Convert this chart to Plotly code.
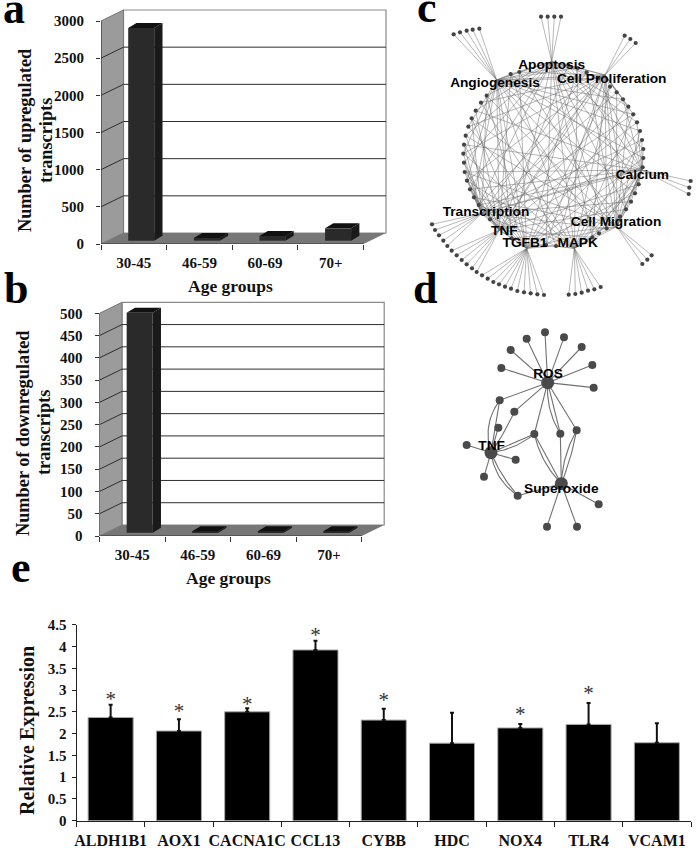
import plotly.graph_objects as go

W, H = 697, 848
SERIF = "Liberation Serif"
SANS = "Liberation Sans"

# ---------- data ----------
age_groups = ["30-45", "46-59", "60-69", "70+"]
upregulated = [2862, 38, 63, 166]
downregulated = [494, 3, 3, 3]
up_ticks = [0, 500, 1000, 1500, 2000, 2500, 3000]
down_ticks = [0, 50, 100, 150, 200, 250, 300, 350, 400, 450, 500]

genes = ["ALDH1B1", "AOX1", "CACNA1C", "CCL13", "CYBB", "HDC", "NOX4", "TLR4", "VCAM1"]
expression = [2.37, 2.06, 2.5, 3.92, 2.31, 1.78, 2.13, 2.21, 1.79]
expression_err = [0.29, 0.27, 0.08, 0.21, 0.26, 0.70, 0.09, 0.49, 0.45]
star_genes = ["ALDH1B1", "AOX1", "CACNA1C", "CCL13", "CYBB", "NOX4", "TLR4"]
star_values = [2.75, 2.48, 2.65, 4.23, 2.72, 2.4, 2.88]
expr_ticks = [0, 0.5, 1, 1.5, 2, 2.5, 3, 3.5, 4, 4.5]
expr_tick_text = ["0", "0.5", "1", "1.5", "2", "2.5", "3", "3.5", "4", "4.5"]

# network c
hub_names = ["Apoptosis", "Angiogenesis", "Cell Proliferation", "Calcium", "Cell Migration",
             "MAPK", "TGFB1", "TNF", "Transcription"]
hub_x = [425, 260, 585, 695, 620, 493, 350, 268, 215]
hub_y = [185, 240, 225, 510, 680, 745, 745, 690, 640]
label_x = [425, 255, 605, 697, 618, 503, 345, 283, 228]
label_y = [197, 250, 240, 527, 668, 730, 730, 695, 637]
ring_x = [475, 503, 530, 565, 600, 620, 639, 655, 670, 681, 690, 696, 700, 700, 698, 686, 675, 663, 648,
          630, 590, 567, 547, 438, 408, 305, 240, 206, 192, 180, 171, 164, 162, 160, 162, 167, 175, 185,
          197, 213, 230, 302, 328]
ring_y = [195, 204, 217, 235, 260, 277, 298, 320, 343, 367, 393, 420, 447, 474, 502, 553, 580, 605, 628,
          650, 685, 700, 712, 738, 735, 715, 658, 615, 592, 568, 542, 516, 488, 461, 434, 407, 380, 355,
          332, 308, 287, 222, 216]
hub_ring_edges = [
    [1, 2, 3, 41, 42, 7, 9, 12, 15, 18, 20, 22, 24, 25, 27, 29, 32, 35, 38, 40],
    [41, 42, 0, 1, 3, 6, 8, 10, 13, 16, 19, 21, 23, 25, 28, 30, 33, 36],
    [3, 4, 5, 6, 7, 8, 0, 42, 39, 36, 33, 30, 27, 26, 24, 23, 22, 20, 18],
    [11, 12, 13, 14, 15, 16, 17, 18, 19, 9, 6, 3, 0, 41, 38, 34, 31, 29, 27, 24, 22, 21],
    [17, 18, 19, 20, 21, 14, 10, 7, 5, 2, 42, 40, 37, 35, 31, 28, 25],
    [21, 22, 23, 24, 19, 15, 11, 8, 4, 1, 41, 39, 36, 33, 30, 27],
    [24, 25, 26, 28, 31, 34, 37, 40, 42, 1, 4, 7, 10, 13, 16, 20, 23],
    [25, 26, 27, 28, 29, 30, 32, 35, 38, 41, 0, 3, 6, 9, 12, 15, 18, 22],
    [26, 27, 28, 29, 30, 31, 32, 33, 34, 37, 40, 2, 5, 8, 11, 14, 17, 20, 23],
]
hub_hub_edges = [(0, 1), (0, 2), (1, 2), (3, 4), (3, 5), (3, 8), (2, 4), (1, 7), (1, 6), (0, 5), (4, 5), (6, 7), (7, 8), (2, 7)]
leaf_hub = [0, 0, 0, 0,
            1, 1, 1, 1, 1,
            2, 2, 2,
            3, 3, 3,
            4, 4, 4,
            5, 5, 5, 5, 5, 5,
            8, 8, 8, 8, 8,
            7, 7, 7, 7, 7, 7,
            6, 6, 6, 6, 6, 6, 6, 6, 6, 6, 6]
leaf_x = [393, 413, 433, 453,
          131, 150, 170, 188, 208,
          644, 661, 677,
          842, 838, 836,
          725, 712, 697,
          476, 496, 515, 534, 553, 572,
          66, 75, 87, 100, 112,
          125, 140, 155, 170, 186, 200,
          216, 233, 250, 267, 285, 303, 322, 342, 362, 382, 402]
leaf_y = [50, 50, 50, 50,
          103, 97, 92, 89, 86,
          107, 117, 129,
          543, 563, 582,
          766, 779, 792,
          884, 882, 878, 872, 868, 861,
          673, 690, 706, 722, 738,
          752, 766, 780, 793, 805, 816,
          826, 836, 846, 853, 860, 866, 873, 877, 880, 883, 885]

# network d
d_names = ["ROS", "TNF", "Superoxide"]
d_label_x = [414, 245, 454]
d_label_y = [255, 469, 598]
d_x = [413, 243, 454, 405, 350, 302, 274, 462, 515, 547, 551, 269, 313, 265, 373, 451, 500, 170, 317, 222, 323, 566, 411, 501]
d_y = [278, 488, 581, 127, 146, 180, 234, 142, 171, 225, 293, 331, 365, 413, 432, 431, 421, 465, 509, 560, 617, 643, 710, 710]
d_edge_from = [0, 0, 0, 0, 0, 0, 0, 0, 0, 1, 1, 0, 1, 1, 0, 1, 1, 14, 14, 0, 0, 0, 15, 16, 16, 1, 1, 1, 1, 1, 20, 2, 2, 2]
d_edge_to = [3, 4, 5, 6, 7, 8, 9, 10, 11, 11, 11, 12, 12, 13, 14, 14, 14, 2, 2, 15, 15, 16, 2, 2, 2, 17, 18, 19, 20, 20, 2, 21, 22, 23]
d_edge_bend = [0, 0, 0, 0, 0, 0, 0, 0, 0, -0.25, 0, 0, 0.05, 0, 0, 0.14, 0, 0, 0.14, 0.16, 0, 0, 0, 0.12, -0.05, 0, 0, 0, 0.22, 0.08, 0, 0, 0, 0]

# ---------- helpers ----------
fx = lambda px: px / W
fy = lambda py: 1 - py / H

fig = go.Figure()
layout_axes = {}
shapes = []
annotations = []


def add_3d_panel(idx, values, ticks, left, right, y0_px, top_px, show_right, show_top, title_lines, title_xs, title_cy, xt_y):
    xa = f"xaxis{idx}"
    ya = f"yaxis{idx}"
    xr = f"x{idx}"
    yr = f"y{idx}"
    slot = (right - left) / 4
    ymax = ticks[-1]
    unit = (y0_px - top_px) / ymax
    dx, dy = 22.5 / slot, 11 / unit
    x_hi = (show_right - left) / slot
    y_hi = (y0_px - show_top) / unit
    layout_axes[xa] = dict(domain=[fx(left), fx(show_right)], range=[0, x_hi], anchor=yr, automargin=False,
                           tickvals=[i + 0.5 for i in range(4)], ticktext=age_groups, ticks="",
                           tickfont=dict(family=SERIF, size=15, color="#111", weight=700), showgrid=False,
                           zeroline=False, showline=False, ticklabelstandoff=8, tickangle=0,
                           minor=dict(tickvals=[0, 1, 2, 3, 4], ticks="outside", ticklen=5, tickcolor="#333", tickwidth=1, showgrid=False))
    layout_axes[ya] = dict(domain=[fy(y0_px), fy(show_top)], range=[0, y_hi], anchor=xr, automargin=False,
                           tickvals=ticks, ticks="outside", ticklen=4, tickcolor="#333",
                           tickfont=dict(family=SERIF, size=15, color="#111", weight=700), showgrid=False,
                           zeroline=False, showline=False, ticklabelstandoff=9)

    def poly(pts, fill=None, line=None, width=1):
        path = "M " + " L ".join(f"{a} {b}" for a, b in pts)
        if fill:
            path += " Z"
        shapes.append(dict(type="path", path=path, xref=xr, yref=yr, layer="below", fillcolor=fill,
                           line=dict(color=line, width=width if line else 0)))

    poly([(dx, dy), (4 + dx, dy), (4 + dx, ymax + dy), (dx, ymax + dy)], "#ffffff", "#8a8a8a", 1.2)
    poly([(0, 0), (dx, dy), (dx, ymax + dy), (0, ymax)], "#9b9b9b", "#777777", 1)
    poly([(0, 0), (dx, dy), (4 + dx, dy), (4, 0)], "#777777", None)
    for t in ticks[1:-1]:
        poly([(0, t), (dx, t + dy), (4 + dx, t + dy)], None, "#2e2e2e", 1)
    poly([(0, 0), (0, ymax)], None, "#333333", 1)
    poly([(0, 0), (4, 0)], None, "#333333", 1)

    bar_w = 26 / slot
    shift_x, shift_y = 7.4 / slot, 3.3 / unit
    ddx, ddy = 8.3 / slot, 5 / unit
    xs = [i + 0.5 + shift_x for i in range(4)]
    fig.add_trace(go.Bar(x=xs, y=values, base=[shift_y] * 4, width=bar_w, xaxis=xr, yaxis=yr,
                         marker=dict(color="#2a2a2a", line=dict(width=0)), showlegend=False))
    for xc, v in zip(xs, values):
        a, b = xc - bar_w / 2, xc + bar_w / 2
        t = v + shift_y
        fig.add_trace(go.Scatter(x=[b, b + ddx, b + ddx, b, b], y=[shift_y, shift_y + ddy, t + ddy, t, shift_y],
                                 fill="toself", fillcolor="#1a1a1a", mode="none", xaxis=xr, yaxis=yr, showlegend=False))
        fig.add_trace(go.Scatter(x=[a, a + ddx, b + ddx, b, a], y=[t, t + ddy, t + ddy, t, t],
                                 fill="toself", fillcolor="#111111", mode="none", xaxis=xr, yaxis=yr, showlegend=False))

    for line, tx in zip(title_lines, title_xs):
        annotations.append(dict(text=f"<b>{line}</b>", x=fx(tx), y=fy(title_cy), xref="paper", yref="paper",
                                textangle=-90, showarrow=False, font=dict(family=SERIF, size=18.3, color="#111"),
                                xanchor="center", yanchor="middle"))
    annotations.append(dict(text="<b>Age groups</b>", x=fx((left + right) / 2 - 2), y=fy(xt_y), xref="paper", yref="paper",
                            showarrow=False, font=dict(family=SERIF, size=17.5, color="#111"),
                            xanchor="center", yanchor="middle"))


add_3d_panel(1, upregulated, up_ticks, 101, 363.5, 244, 21, 389, 9,
             ["Number of upregulated", "transcripts"], [25, 46], 141, 286)
add_3d_panel(2, downregulated, down_ticks, 99.5, 361.7, 536, 313.3, 385, 301,
             ["Number of downregulated", "transcripts"], [23, 44], 433, 578)

# panel e
e_left, e_right, e_y0, e_top = 76.5, 691, 820.7, 624.7
layout_axes["xaxis3"] = dict(domain=[fx(e_left), fx(e_right)], range=[-0.5, 8.5], anchor="y3", automargin=False,
                             tickvals=list(range(9)), ticktext=genes, ticks="", tickangle=0,
                             tickfont=dict(family=SERIF, size=16, color="#111", weight=700), showgrid=False, zeroline=False,
                             showline=True, linecolor="#222", linewidth=1, ticklabelstandoff=5,
                             minor=dict(tickvals=[i - 0.5 for i in range(10)], ticks="outside", ticklen=5, tickcolor="#222", showgrid=False))
layout_axes["yaxis3"] = dict(domain=[fy(e_y0), fy(e_top)], range=[0, 4.5], anchor="x3", automargin=False, tickvals=expr_ticks,
                             ticktext=expr_tick_text, ticks="outside", ticklen=4, tickcolor="#222",
                             tickfont=dict(family=SERIF, size=15, color="#111", weight=700), showgrid=False, zeroline=False,
                             showline=True, linecolor="#222", linewidth=1, ticklabelstandoff=2)
gene_pos = {g: i for i, g in enumerate(genes)}
fig.add_trace(go.Bar(x=list(range(9)), y=expression, width=0.66, xaxis="x3", yaxis="y3",
                     marker=dict(color="#000000", line=dict(color="#aaaaaa", width=1)),
                     error_y=dict(type="data", symmetric=False, array=expression_err, arrayminus=[0] * 9,
                                  color="#111", thickness=2, width=2), showlegend=False))
fig.add_trace(go.Scatter(x=[gene_pos[g] for g in star_genes], y=star_values, mode="text", text=["*"] * len(star_genes),
                         textposition="middle center", textfont=dict(family=SERIF, size=21, color="#333"),
                         xaxis="x3", yaxis="y3", showlegend=False))
annotations.append(dict(text="<b>Relative Expression</b>", x=fx(27), y=fy(731), xref="paper", yref="paper", textangle=-90,
                        showarrow=False, font=dict(family=SERIF, size=20, color="#111"), xanchor="center", yanchor="middle"))

# panel c
layout_axes["xaxis4"] = dict(domain=[fx(410), fx(697)], range=[0, 861], anchor="y4", visible=False, automargin=False)
layout_axes["yaxis4"] = dict(domain=[fy(300), fy(0)], range=[900, 0], anchor="x4", visible=False, automargin=False)
ex, ey = [], []
for h, ring in enumerate(hub_ring_edges):
    for r in ring:
        ex += [hub_x[h], ring_x[r], None]
        ey += [hub_y[h], ring_y[r], None]
for a, b in hub_hub_edges:
    ex += [hub_x[a], hub_x[b], None]
    ey += [hub_y[a], hub_y[b], None]
for h, lx, ly in zip(leaf_hub, leaf_x, leaf_y):
    ex += [hub_x[h], lx, None]
    ey += [hub_y[h], ly, None]
fig.add_trace(go.Scatter(x=ex, y=ey, mode="lines", line=dict(color="rgba(105,105,105,0.6)", width=0.8),
                         xaxis="x4", yaxis="y4", showlegend=False, cliponaxis=False))
fig.add_trace(go.Scatter(x=ring_x + leaf_x, y=ring_y + leaf_y, mode="markers",
                         marker=dict(color="#444444", size=4.2), xaxis="x4", yaxis="y4", showlegend=False))
fig.add_trace(go.Scatter(x=label_x, y=label_y, mode="text", text=[f"<b>{n}</b>" for n in hub_names],
                         textposition="middle center", textfont=dict(family=SANS, size=13.7, color="#000"),
                         xaxis="x4", yaxis="y4", showlegend=False))

# panel d
layout_axes["xaxis5"] = dict(domain=[fx(410), fx(660)], range=[0, 750], anchor="y5", visible=False, automargin=False)
layout_axes["yaxis5"] = dict(domain=[fy(550), fy(290)], range=[780, 0], anchor="x5", visible=False, automargin=False)
dx_l, dy_l = [], []
for a, b, bend in zip(d_edge_from, d_edge_to, d_edge_bend):
    x0, y0, x1, y1 = d_x[a], d_y[a], d_x[b], d_y[b]
    cx = (x0 + x1) / 2 - (y1 - y0) * bend
    cy = (y0 + y1) / 2 + (x1 - x0) * bend
    for k in range(21):
        t = k / 20
        dx_l.append((1 - t) ** 2 * x0 + 2 * t * (1 - t) * cx + t * t * x1)
        dy_l.append((1 - t) ** 2 * y0 + 2 * t * (1 - t) * cy + t * t * y1)
    dx_l.append(None)
    dy_l.append(None)
fig.add_trace(go.Scatter(x=dx_l, y=dy_l, mode="lines", line=dict(color="#707070", width=1.1),
                         xaxis="x5", yaxis="y5", showlegend=False))
fig.add_trace(go.Scatter(x=d_x, y=d_y, mode="markers",
                         marker=dict(color="#4a4a4a", opacity=1, line=dict(width=0),
                                     size=[13] * 3 + [8] * (len(d_x) - 3)),
                         xaxis="x5", yaxis="y5", showlegend=False))
fig.add_trace(go.Scatter(x=d_label_x, y=d_label_y, mode="text", text=[f"<b>{n}</b>" for n in d_names],
                         textposition="middle center", textfont=dict(family=SANS, size=13.7, color="#000"),
                         xaxis="x5", yaxis="y5", showlegend=False))

# panel letters
for letter, px, py in [("a", 3, 8.5), ("b", 4, 288.5), ("c", 417, 7.5), ("d", 413, 288.5), ("e", 11, 567.5)]:
    annotations.append(dict(text=f"<b>{letter}</b>", x=fx(px), y=fy(py), xref="paper", yref="paper", showarrow=False,
                            font=dict(family=SERIF, size=44, color="#000"), xanchor="left", yanchor="middle",
                            xshift=-1, borderpad=0))

fig.update_layout(width=W, height=H, autosize=False,
                  margin=dict(l=0, r=0, t=0, b=0, autoexpand=False), paper_bgcolor="white",
                  plot_bgcolor="rgba(0,0,0,0)", showlegend=False, barmode="overlay", shapes=shapes,
                  annotations=annotations, **layout_axes)
fig.write_html("out.html", config={"displayModeBar": False}, post_script="document.body.style.margin='0';")
